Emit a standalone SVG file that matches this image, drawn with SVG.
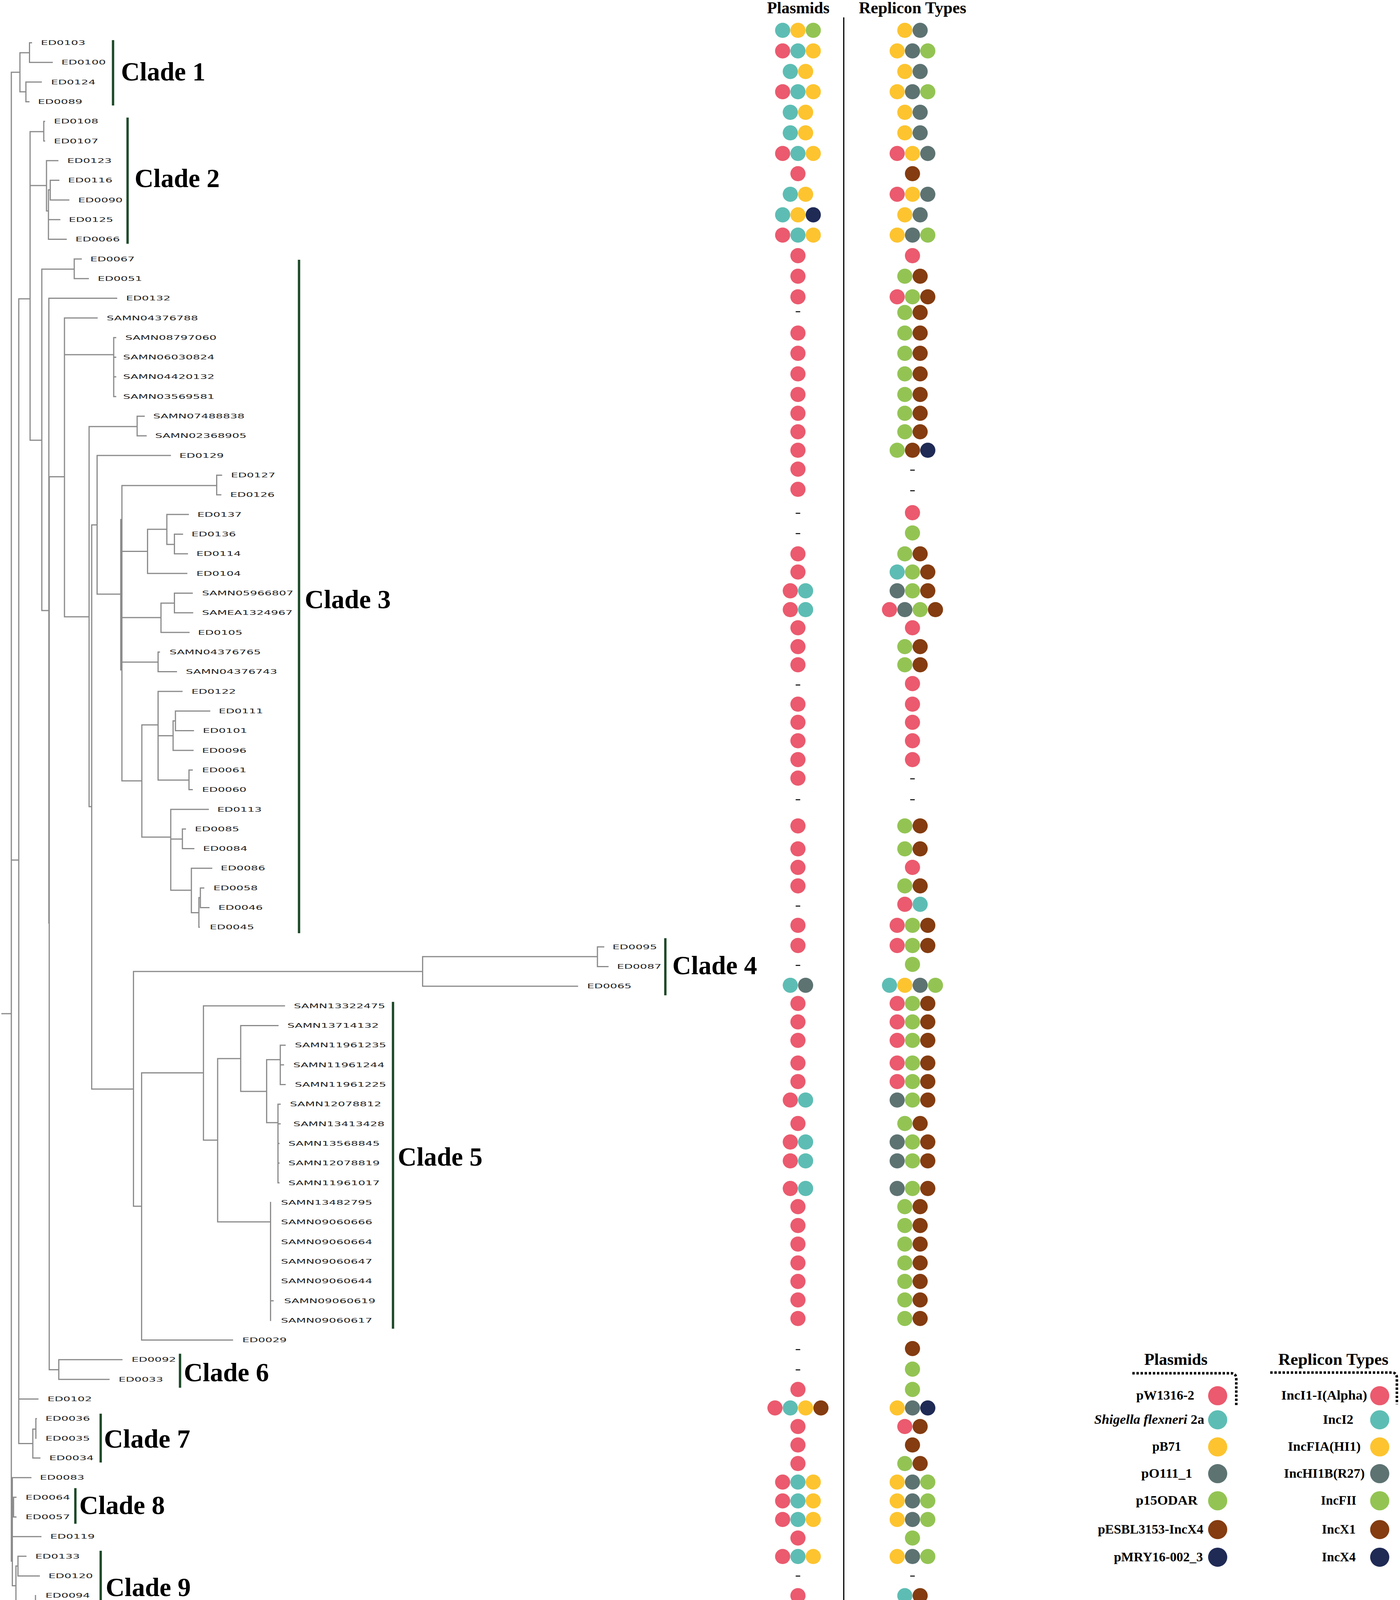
<svg xmlns="http://www.w3.org/2000/svg" width="3583" height="4203" viewBox="0 0 3583 4203">
<style>
.t{fill:none;stroke:#8a8a8a;stroke-width:3;stroke-linecap:square}
.lf{font-family:"DejaVu Sans",Verdana,sans-serif;font-size:15.5px;fill:#222}
.cl{font-family:"Liberation Serif","Times New Roman",serif;font-weight:bold;font-size:67px;fill:#000}
.hd{font-family:"Liberation Serif","Times New Roman",serif;font-weight:bold;font-size:42px;fill:#000}
.lg{font-family:"Liberation Serif","Times New Roman",serif;font-weight:bold;font-size:33px;fill:#000}
.ax{font-family:"Liberation Serif","Times New Roman",serif;font-size:16px;fill:#222}
.bar{stroke:#1d4a28;stroke-width:6}
.R{fill:#eb5a6e}.T{fill:#5dbdb4}.Y{fill:#fdc42f}.G{fill:#5d7372}.L{fill:#93c453}.B{fill:#843c10}.N{fill:#1f2a55}
.d{stroke:#000;stroke-width:2.5}
.dot{fill:none;stroke:#000;stroke-width:6.5;stroke-dasharray:6 4.5}
</style>
<rect width="3583" height="4203" fill="#fff"/>
<g id="connectors">
<path class="t" d="M5,2595H29 M29,185V3996.5 M29,185H51
M51,135V235 M51,135H75.5 M75.5,109.4V159.7 M75.5,109.4H80.6 M75.5,159.7H133.7
M51,235H66.3 M66.3,210V260.4 M66.3,210H105.6 M66.3,260.4H74
M29,2201.8H48 M48,765V3695.4 M48,765H77 M77,337V1127
M77,337H112 M112,310.7V361 M112,310.7H114 M112,361H114
M77,475H119 M119,411.3V540 M119,411.3H148
M119,540H124 M124,486V612.6 M124,486H128.6 M128.6,461.6V512 M128.6,461.6H150.5 M128.6,512H176 M124,562.3H153 M124,612.6H169.4
M77,1127H107 M107,689V1563 M107,689H190 M190,662.9V713.2 M190,662.9H208 M190,713.2H226 M107,1563H125
M125,763.6V2363 M125,763.6H298.5 M126,1220.5V3506.5 M126,1220.5H165
M126,3506.5H150.5 M150.5,3480.8V3531.2 M150.5,3480.8H312 M150.5,3531.2H279
M165,813.9V1579 M165,813.9H248.5 M165,908H291 M291,864.2V1015.2 M291,864.2H296 M291,914.5H296 M291,964.8H296 M291,1015.2H296
M165,1579H228
M228,1092V2065 M228,1092H351 M351,1065.5V1115.8 M351,1065.5H369 M351,1115.8H374 M228,2065H234.7
M234.7,1343.75V2788 M234.7,1343.75H248.5 M234.7,2788H341.6
M248.5,1166.1V1521 M248.5,1166.1H436 M248.5,1521H312
M312,1243V1999 M309,1330V1715
M312,1243H554.6 M554.6,1216.4V1266.8 M554.6,1216.4H567 M554.6,1266.8H565
M312,1411.6H377.6 M377.6,1355V1468 M377.6,1355H427 M427,1317.1V1393.75 M427,1317.1H482 M427,1393.75H446.4 M446.4,1367.4V1417.7 M446.4,1367.4H467 M446.4,1417.7H479.6 M377.6,1468H478
M312,1581H412 M412,1544V1619 M412,1544H446.4 M446.4,1518.4V1568.7 M446.4,1518.4H492 M446.4,1568.7H493 M412,1619H483.7
M312,1695H404.6 M404.6,1669.3V1719.6 M404.6,1669.3H408 M404.6,1719.6H451.5
M312,1999H363
M363,1855.8V2143 M363,1855.8H404.6 M404.6,1770V1997 M404.6,1770H465.8 M404.6,1883.5H443 M443,1845.5V1920.9 M443,1845.5H449 M449,1820.3V1870.6 M449,1820.3H536.7 M449,1870.6H495 M443,1920.9H494 M404.6,1997H483.7 M483.7,1971.2V2021.6 M483.7,1971.2H492 M483.7,2021.6H492
M363,2143H437 M437,2071.9V2279 M437,2071.9H533 M437,2148H466.8 M466.8,2122.2V2172.5 M466.8,2122.2H474.5 M466.8,2172.5H496 M437,2279H489.8 M489.8,2222.8V2336.5 M489.8,2222.8H541.8 M489.8,2336.5H509 M509,2298V2373.8 M509,2298H512.8 M512.8,2273.2V2323.5 M512.8,2273.2H521.4 M512.8,2323.5H534.7 M509,2373.8H510
M341.6,2487V3088 M341.6,2487H1081.6 M1081.6,2449V2524.8 M1081.6,2449H1529 M1529,2424.1V2474.4 M1529,2424.1H1545 M1529,2474.4H1556 M1081.6,2524.8H1478
M341.6,3088H362.4 M362.4,2746.6V3430.5 M362.4,2746.6H520.7 M362.4,3430.5H595
M520.7,2575.1V2918.7 M520.7,2575.1H728 M520.7,2918.7H557 M557,2710V3128 M557,2710H616 M616,2625.4V2794 M616,2625.4H711.4 M616,2794H682.4 M682.4,2712.8V2874 M682.4,2712.8H717.3 M717.3,2675.7V2776.4 M717.3,2675.7H729.7 M717.3,2726H725.5 M717.3,2776.4H729.7 M682.4,2874H711.4 M711.4,2826.7V3028 M711.4,2826.7H717 M711.4,2877H717 M711.4,2927.3H714 M711.4,2977.6H714 M711.4,3028H714 M557,3128H692.4 M692.4,3078.3V3380.2 M692.4,3329.9H699
M48,3581.5H97 M48,3695.4H84 M84,3658.6V3732.4 M84,3658.6H91.8 M91.8,3631.8V3682.1 M91.8,3631.8H93 M84,3732.4H102
M29,3996.5H31.6 M31.6,3782.8V4059.5 M31.6,3782.8H79 M31.6,3858H34.7 M34.7,3833.1V3883.4 M34.7,3833.1H40.8 M34.7,3883.4H40.8 M31.6,3933.7H104.6 M31.6,4059.5H40.8 M40.8,4009V4110 M40.8,4009H46 M46,3984V4034.4 M46,3984H66.3 M46,4034.4H100.5 M40.8,4110H90.8 M90.8,4084.7V4135 M90.8,4135H92"/>
</g>
<g id="leaves">
<g id="leaf-ED0103"><text class="lf" x="104.6" y="115" textLength="114" lengthAdjust="spacingAndGlyphs">ED0103</text></g>
<g id="leaf-ED0100"><text class="lf" x="157" y="165.3" textLength="114" lengthAdjust="spacingAndGlyphs">ED0100</text></g>
<g id="leaf-ED0124"><text class="lf" x="130.6" y="215.6" textLength="114" lengthAdjust="spacingAndGlyphs">ED0124</text></g>
<g id="leaf-ED0089"><text class="lf" x="97" y="266" textLength="114" lengthAdjust="spacingAndGlyphs">ED0089</text></g>
<g id="leaf-ED0108"><text class="lf" x="137.8" y="316.3" textLength="114" lengthAdjust="spacingAndGlyphs">ED0108</text></g>
<g id="leaf-ED0107"><text class="lf" x="137.8" y="366.6" textLength="114" lengthAdjust="spacingAndGlyphs">ED0107</text></g>
<g id="leaf-ED0123"><text class="lf" x="172" y="416.9" textLength="114" lengthAdjust="spacingAndGlyphs">ED0123</text></g>
<g id="leaf-ED0116"><text class="lf" x="174" y="467.2" textLength="114" lengthAdjust="spacingAndGlyphs">ED0116</text></g>
<g id="leaf-ED0090"><text class="lf" x="200" y="517.6" textLength="114" lengthAdjust="spacingAndGlyphs">ED0090</text></g>
<g id="leaf-ED0125"><text class="lf" x="176" y="567.9" textLength="114" lengthAdjust="spacingAndGlyphs">ED0125</text></g>
<g id="leaf-ED0066"><text class="lf" x="193" y="618.2" textLength="114" lengthAdjust="spacingAndGlyphs">ED0066</text></g>
<g id="leaf-ED0067"><text class="lf" x="231" y="668.5" textLength="114" lengthAdjust="spacingAndGlyphs">ED0067</text></g>
<g id="leaf-ED0051"><text class="lf" x="250" y="718.8" textLength="114" lengthAdjust="spacingAndGlyphs">ED0051</text></g>
<g id="leaf-ED0132"><text class="lf" x="322.4" y="769.2" textLength="114" lengthAdjust="spacingAndGlyphs">ED0132</text></g>
<g id="leaf-SAMN04376788"><text class="lf" x="273" y="819.5" textLength="234" lengthAdjust="spacingAndGlyphs">SAMN04376788</text></g>
<g id="leaf-SAMN08797060"><text class="lf" x="320.4" y="869.8" textLength="234" lengthAdjust="spacingAndGlyphs">SAMN08797060</text></g>
<g id="leaf-SAMN06030824"><text class="lf" x="315" y="920.1" textLength="234" lengthAdjust="spacingAndGlyphs">SAMN06030824</text></g>
<g id="leaf-SAMN04420132"><text class="lf" x="315" y="970.4" textLength="234" lengthAdjust="spacingAndGlyphs">SAMN04420132</text></g>
<g id="leaf-SAMN03569581"><text class="lf" x="315" y="1020.8" textLength="234" lengthAdjust="spacingAndGlyphs">SAMN03569581</text></g>
<g id="leaf-SAMN07488838"><text class="lf" x="392" y="1071.1" textLength="234" lengthAdjust="spacingAndGlyphs">SAMN07488838</text></g>
<g id="leaf-SAMN02368905"><text class="lf" x="397" y="1121.4" textLength="234" lengthAdjust="spacingAndGlyphs">SAMN02368905</text></g>
<g id="leaf-ED0129"><text class="lf" x="459" y="1171.7" textLength="114" lengthAdjust="spacingAndGlyphs">ED0129</text></g>
<g id="leaf-ED0127"><text class="lf" x="591" y="1222" textLength="114" lengthAdjust="spacingAndGlyphs">ED0127</text></g>
<g id="leaf-ED0126"><text class="lf" x="589" y="1272.4" textLength="114" lengthAdjust="spacingAndGlyphs">ED0126</text></g>
<g id="leaf-ED0137"><text class="lf" x="505" y="1322.7" textLength="114" lengthAdjust="spacingAndGlyphs">ED0137</text></g>
<g id="leaf-ED0136"><text class="lf" x="490" y="1373" textLength="114" lengthAdjust="spacingAndGlyphs">ED0136</text></g>
<g id="leaf-ED0114"><text class="lf" x="502.6" y="1423.3" textLength="114" lengthAdjust="spacingAndGlyphs">ED0114</text></g>
<g id="leaf-ED0104"><text class="lf" x="502.6" y="1473.6" textLength="114" lengthAdjust="spacingAndGlyphs">ED0104</text></g>
<g id="leaf-SAMN05966807"><text class="lf" x="517" y="1524" textLength="234" lengthAdjust="spacingAndGlyphs">SAMN05966807</text></g>
<g id="leaf-SAMEA1324967"><text class="lf" x="517" y="1574.3" textLength="232" lengthAdjust="spacingAndGlyphs">SAMEA1324967</text></g>
<g id="leaf-ED0105"><text class="lf" x="506.6" y="1624.6" textLength="114" lengthAdjust="spacingAndGlyphs">ED0105</text></g>
<g id="leaf-SAMN04376765"><text class="lf" x="433.7" y="1674.9" textLength="234" lengthAdjust="spacingAndGlyphs">SAMN04376765</text></g>
<g id="leaf-SAMN04376743"><text class="lf" x="475.5" y="1725.2" textLength="234" lengthAdjust="spacingAndGlyphs">SAMN04376743</text></g>
<g id="leaf-ED0122"><text class="lf" x="490" y="1775.6" textLength="114" lengthAdjust="spacingAndGlyphs">ED0122</text></g>
<g id="leaf-ED0111"><text class="lf" x="559.7" y="1825.9" textLength="114" lengthAdjust="spacingAndGlyphs">ED0111</text></g>
<g id="leaf-ED0101"><text class="lf" x="519" y="1876.2" textLength="114" lengthAdjust="spacingAndGlyphs">ED0101</text></g>
<g id="leaf-ED0096"><text class="lf" x="517" y="1926.5" textLength="114" lengthAdjust="spacingAndGlyphs">ED0096</text></g>
<g id="leaf-ED0061"><text class="lf" x="517" y="1976.8" textLength="114" lengthAdjust="spacingAndGlyphs">ED0061</text></g>
<g id="leaf-ED0060"><text class="lf" x="517" y="2027.2" textLength="114" lengthAdjust="spacingAndGlyphs">ED0060</text></g>
<g id="leaf-ED0113"><text class="lf" x="556" y="2077.5" textLength="114" lengthAdjust="spacingAndGlyphs">ED0113</text></g>
<g id="leaf-ED0085"><text class="lf" x="498.5" y="2127.8" textLength="114" lengthAdjust="spacingAndGlyphs">ED0085</text></g>
<g id="leaf-ED0084"><text class="lf" x="519.4" y="2178.1" textLength="114" lengthAdjust="spacingAndGlyphs">ED0084</text></g>
<g id="leaf-ED0086"><text class="lf" x="564.8" y="2228.4" textLength="114" lengthAdjust="spacingAndGlyphs">ED0086</text></g>
<g id="leaf-ED0058"><text class="lf" x="546" y="2278.8" textLength="114" lengthAdjust="spacingAndGlyphs">ED0058</text></g>
<g id="leaf-ED0046"><text class="lf" x="558.7" y="2329.1" textLength="114" lengthAdjust="spacingAndGlyphs">ED0046</text></g>
<g id="leaf-ED0045"><text class="lf" x="536.7" y="2379.4" textLength="114" lengthAdjust="spacingAndGlyphs">ED0045</text></g>
<g id="leaf-ED0095"><text class="lf" x="1567.6" y="2429.7" textLength="114" lengthAdjust="spacingAndGlyphs">ED0095</text></g>
<g id="leaf-ED0087"><text class="lf" x="1579" y="2480" textLength="114" lengthAdjust="spacingAndGlyphs">ED0087</text></g>
<g id="leaf-ED0065"><text class="lf" x="1502.5" y="2530.4" textLength="114" lengthAdjust="spacingAndGlyphs">ED0065</text></g>
<g id="leaf-SAMN13322475"><text class="lf" x="752" y="2580.7" textLength="234" lengthAdjust="spacingAndGlyphs">SAMN13322475</text></g>
<g id="leaf-SAMN13714132"><text class="lf" x="735.5" y="2631" textLength="234" lengthAdjust="spacingAndGlyphs">SAMN13714132</text></g>
<g id="leaf-SAMN11961235"><text class="lf" x="754.6" y="2681.3" textLength="234" lengthAdjust="spacingAndGlyphs">SAMN11961235</text></g>
<g id="leaf-SAMN11961244"><text class="lf" x="750.4" y="2731.6" textLength="234" lengthAdjust="spacingAndGlyphs">SAMN11961244</text></g>
<g id="leaf-SAMN11961225"><text class="lf" x="754.6" y="2782" textLength="234" lengthAdjust="spacingAndGlyphs">SAMN11961225</text></g>
<g id="leaf-SAMN12078812"><text class="lf" x="742" y="2832.3" textLength="234" lengthAdjust="spacingAndGlyphs">SAMN12078812</text></g>
<g id="leaf-SAMN13413428"><text class="lf" x="750.4" y="2882.6" textLength="234" lengthAdjust="spacingAndGlyphs">SAMN13413428</text></g>
<g id="leaf-SAMN13568845"><text class="lf" x="738" y="2932.9" textLength="234" lengthAdjust="spacingAndGlyphs">SAMN13568845</text></g>
<g id="leaf-SAMN12078819"><text class="lf" x="738" y="2983.2" textLength="234" lengthAdjust="spacingAndGlyphs">SAMN12078819</text></g>
<g id="leaf-SAMN11961017"><text class="lf" x="738" y="3033.6" textLength="234" lengthAdjust="spacingAndGlyphs">SAMN11961017</text></g>
<g id="leaf-SAMN13482795"><text class="lf" x="719" y="3083.9" textLength="234" lengthAdjust="spacingAndGlyphs">SAMN13482795</text></g>
<g id="leaf-SAMN09060666"><text class="lf" x="719" y="3134.2" textLength="234" lengthAdjust="spacingAndGlyphs">SAMN09060666</text></g>
<g id="leaf-SAMN09060664"><text class="lf" x="719" y="3184.5" textLength="234" lengthAdjust="spacingAndGlyphs">SAMN09060664</text></g>
<g id="leaf-SAMN09060647"><text class="lf" x="719" y="3234.8" textLength="234" lengthAdjust="spacingAndGlyphs">SAMN09060647</text></g>
<g id="leaf-SAMN09060644"><text class="lf" x="719" y="3285.2" textLength="234" lengthAdjust="spacingAndGlyphs">SAMN09060644</text></g>
<g id="leaf-SAMN09060619"><text class="lf" x="727" y="3335.5" textLength="234" lengthAdjust="spacingAndGlyphs">SAMN09060619</text></g>
<g id="leaf-SAMN09060617"><text class="lf" x="719" y="3385.8" textLength="234" lengthAdjust="spacingAndGlyphs">SAMN09060617</text></g>
<g id="leaf-ED0029"><text class="lf" x="620" y="3436.1" textLength="114" lengthAdjust="spacingAndGlyphs">ED0029</text></g>
<g id="leaf-ED0092"><text class="lf" x="336.7" y="3486.4" textLength="114" lengthAdjust="spacingAndGlyphs">ED0092</text></g>
<g id="leaf-ED0033"><text class="lf" x="303.6" y="3536.8" textLength="114" lengthAdjust="spacingAndGlyphs">ED0033</text></g>
<g id="leaf-ED0102"><text class="lf" x="121.4" y="3587.1" textLength="114" lengthAdjust="spacingAndGlyphs">ED0102</text></g>
<g id="leaf-ED0036"><text class="lf" x="116.3" y="3637.4" textLength="114" lengthAdjust="spacingAndGlyphs">ED0036</text></g>
<g id="leaf-ED0035"><text class="lf" x="116.3" y="3687.7" textLength="114" lengthAdjust="spacingAndGlyphs">ED0035</text></g>
<g id="leaf-ED0034"><text class="lf" x="126" y="3738" textLength="114" lengthAdjust="spacingAndGlyphs">ED0034</text></g>
<g id="leaf-ED0083"><text class="lf" x="102" y="3788.4" textLength="114" lengthAdjust="spacingAndGlyphs">ED0083</text></g>
<g id="leaf-ED0064"><text class="lf" x="65.3" y="3838.7" textLength="114" lengthAdjust="spacingAndGlyphs">ED0064</text></g>
<g id="leaf-ED0057"><text class="lf" x="65.3" y="3889" textLength="114" lengthAdjust="spacingAndGlyphs">ED0057</text></g>
<g id="leaf-ED0119"><text class="lf" x="128.6" y="3939.3" textLength="114" lengthAdjust="spacingAndGlyphs">ED0119</text></g>
<g id="leaf-ED0133"><text class="lf" x="90.3" y="3989.6" textLength="114" lengthAdjust="spacingAndGlyphs">ED0133</text></g>
<g id="leaf-ED0120"><text class="lf" x="124" y="4040" textLength="114" lengthAdjust="spacingAndGlyphs">ED0120</text></g>
<g id="leaf-ED0094"><text class="lf" x="116.3" y="4090.3" textLength="114" lengthAdjust="spacingAndGlyphs">ED0094</text></g>
<g id="leaf-ED0093"><text class="lf" x="121.4" y="4140.6" textLength="114" lengthAdjust="spacingAndGlyphs">ED0093</text></g>
</g>
<g id="clades">
<g id="clade-1"><line class="bar" x1="289.3" y1="102.7" x2="289.3" y2="270"/><text class="cl" x="309.7" y="206" textLength="216" lengthAdjust="spacingAndGlyphs">Clade 1</text></g>
<g id="clade-2"><line class="bar" x1="326.5" y1="301" x2="326.5" y2="624"/><text class="cl" x="344.4" y="479" textLength="218" lengthAdjust="spacingAndGlyphs">Clade 2</text></g>
<g id="clade-3"><line class="bar" x1="765.3" y1="665" x2="765.3" y2="2389"/><text class="cl" x="780" y="1557" textLength="220" lengthAdjust="spacingAndGlyphs">Clade 3</text></g>
<g id="clade-4"><line class="bar" x1="1702.8" y1="2401.7" x2="1702.8" y2="2548"/><text class="cl" x="1720.7" y="2494" textLength="217" lengthAdjust="spacingAndGlyphs">Clade 4</text></g>
<g id="clade-5"><line class="bar" x1="1005.8" y1="2564.8" x2="1005.8" y2="3401.5"/><text class="cl" x="1018" y="2984.4" textLength="217" lengthAdjust="spacingAndGlyphs">Clade 5</text></g>
<g id="clade-6"><line class="bar" x1="460.7" y1="3465.5" x2="460.7" y2="3552.6"/><text class="cl" x="470.4" y="3535.7" textLength="218" lengthAdjust="spacingAndGlyphs">Clade 6</text></g>
<g id="clade-7"><line class="bar" x1="257.7" y1="3619" x2="257.7" y2="3744"/><text class="cl" x="266" y="3706" textLength="221" lengthAdjust="spacingAndGlyphs">Clade 7</text></g>
<g id="clade-8"><line class="bar" x1="192.9" y1="3809.6" x2="192.9" y2="3900.8"/><text class="cl" x="203" y="3876" textLength="219" lengthAdjust="spacingAndGlyphs">Clade 8</text></g>
<g id="clade-9"><line class="bar" x1="257.7" y1="3969.9" x2="257.7" y2="4151.7"/><text class="cl" x="270.4" y="4086" textLength="218" lengthAdjust="spacingAndGlyphs">Clade 9</text></g>
</g>
<g id="axis">
<path d="M27.5,4197.7H1553 M27.5,4188V4197.7 M295,4188V4197.7 M562,4188V4197.7 M829,4188V4197.7 M1095,4188V4197.7 M1362,4188V4197.7" fill="none" stroke="#8a8a8a" stroke-width="2"/>
<text class="ax" x="20" y="4185" textLength="15" lengthAdjust="spacingAndGlyphs">0</text>
<text class="ax" x="277" y="4185" textLength="36" lengthAdjust="spacingAndGlyphs">50</text>
<text class="ax" x="535" y="4185" textLength="54" lengthAdjust="spacingAndGlyphs">100</text>
<text class="ax" x="802" y="4185" textLength="54" lengthAdjust="spacingAndGlyphs">150</text>
<text class="ax" x="1068" y="4185" textLength="54" lengthAdjust="spacingAndGlyphs">200</text>
<text class="ax" x="1335" y="4185" textLength="54" lengthAdjust="spacingAndGlyphs">250</text>
</g>
<g id="headers">
<text class="hd" x="1963" y="34" textLength="160" lengthAdjust="spacingAndGlyphs">Plasmids</text>
<text class="hd" x="2198" y="34" textLength="275" lengthAdjust="spacingAndGlyphs">Replicon Types</text>
<line x1="2159.4" y1="44.6" x2="2159.4" y2="4151" stroke="#000" stroke-width="3"/>
</g>
<g id="dots">
<g id="row0"><circle class="T" cx="2003" cy="77.7" r="19.4"/><circle class="Y" cx="2042.2" cy="77.7" r="19.4"/><circle class="L" cx="2081.4" cy="77.7" r="19.4"/><circle class="Y" cx="2315.7" cy="77.7" r="19.4"/><circle class="G" cx="2354.9" cy="77.7" r="19.4"/></g>
<g id="row1"><circle class="R" cx="2003" cy="130.4" r="19.4"/><circle class="T" cx="2042.2" cy="130.4" r="19.4"/><circle class="Y" cx="2081.4" cy="130.4" r="19.4"/><circle class="Y" cx="2296.1" cy="130.4" r="19.4"/><circle class="G" cx="2335.3" cy="130.4" r="19.4"/><circle class="L" cx="2374.5" cy="130.4" r="19.4"/></g>
<g id="row2"><circle class="T" cx="2022.6" cy="183" r="19.4"/><circle class="Y" cx="2061.8" cy="183" r="19.4"/><circle class="Y" cx="2315.7" cy="183" r="19.4"/><circle class="G" cx="2354.9" cy="183" r="19.4"/></g>
<g id="row3"><circle class="R" cx="2003" cy="234.8" r="19.4"/><circle class="T" cx="2042.2" cy="234.8" r="19.4"/><circle class="Y" cx="2081.4" cy="234.8" r="19.4"/><circle class="Y" cx="2296.1" cy="234.8" r="19.4"/><circle class="G" cx="2335.3" cy="234.8" r="19.4"/><circle class="L" cx="2374.5" cy="234.8" r="19.4"/></g>
<g id="row4"><circle class="T" cx="2022.6" cy="287.5" r="19.4"/><circle class="Y" cx="2061.8" cy="287.5" r="19.4"/><circle class="Y" cx="2315.7" cy="287.5" r="19.4"/><circle class="G" cx="2354.9" cy="287.5" r="19.4"/></g>
<g id="row5"><circle class="T" cx="2022.6" cy="340.2" r="19.4"/><circle class="Y" cx="2061.8" cy="340.2" r="19.4"/><circle class="Y" cx="2315.7" cy="340.2" r="19.4"/><circle class="G" cx="2354.9" cy="340.2" r="19.4"/></g>
<g id="row6"><circle class="R" cx="2003" cy="392.9" r="19.4"/><circle class="T" cx="2042.2" cy="392.9" r="19.4"/><circle class="Y" cx="2081.4" cy="392.9" r="19.4"/><circle class="R" cx="2296.1" cy="392.9" r="19.4"/><circle class="Y" cx="2335.3" cy="392.9" r="19.4"/><circle class="G" cx="2374.5" cy="392.9" r="19.4"/></g>
<g id="row7"><circle class="R" cx="2042.2" cy="444.6" r="19.4"/><circle class="B" cx="2335.3" cy="444.6" r="19.4"/></g>
<g id="row8"><circle class="T" cx="2022.6" cy="497.3" r="19.4"/><circle class="Y" cx="2061.8" cy="497.3" r="19.4"/><circle class="R" cx="2296.1" cy="497.3" r="19.4"/><circle class="Y" cx="2335.3" cy="497.3" r="19.4"/><circle class="G" cx="2374.5" cy="497.3" r="19.4"/></g>
<g id="row9"><circle class="T" cx="2003" cy="550" r="19.4"/><circle class="Y" cx="2042.2" cy="550" r="19.4"/><circle class="N" cx="2081.4" cy="550" r="19.4"/><circle class="Y" cx="2315.7" cy="550" r="19.4"/><circle class="G" cx="2354.9" cy="550" r="19.4"/></g>
<g id="row10"><circle class="R" cx="2003" cy="601.8" r="19.4"/><circle class="T" cx="2042.2" cy="601.8" r="19.4"/><circle class="Y" cx="2081.4" cy="601.8" r="19.4"/><circle class="Y" cx="2296.1" cy="601.8" r="19.4"/><circle class="G" cx="2335.3" cy="601.8" r="19.4"/><circle class="L" cx="2374.5" cy="601.8" r="19.4"/></g>
<g id="row11"><circle class="R" cx="2042.2" cy="654.5" r="19.4"/><circle class="R" cx="2335.3" cy="654.5" r="19.4"/></g>
<g id="row12"><circle class="R" cx="2042.2" cy="707.1" r="19.4"/><circle class="L" cx="2315.7" cy="707.1" r="19.4"/><circle class="B" cx="2354.9" cy="707.1" r="19.4"/></g>
<g id="row13"><circle class="R" cx="2042.2" cy="759.8" r="19.4"/><circle class="R" cx="2296.1" cy="759.8" r="19.4"/><circle class="L" cx="2335.3" cy="759.8" r="19.4"/><circle class="B" cx="2374.5" cy="759.8" r="19.4"/></g>
<g id="row14"><line class="d" x1="2036.4" y1="798" x2="2048" y2="798"/><circle class="L" cx="2315.7" cy="800" r="19.4"/><circle class="B" cx="2354.9" cy="800" r="19.4"/></g>
<g id="row15"><circle class="R" cx="2042.2" cy="852.7" r="19.4"/><circle class="L" cx="2315.7" cy="852.7" r="19.4"/><circle class="B" cx="2354.9" cy="852.7" r="19.4"/></g>
<g id="row16"><circle class="R" cx="2042.2" cy="904.5" r="19.4"/><circle class="L" cx="2315.7" cy="904.5" r="19.4"/><circle class="B" cx="2354.9" cy="904.5" r="19.4"/></g>
<g id="row17"><circle class="R" cx="2042.2" cy="957.1" r="19.4"/><circle class="L" cx="2315.7" cy="957.1" r="19.4"/><circle class="B" cx="2354.9" cy="957.1" r="19.4"/></g>
<g id="row18"><circle class="R" cx="2042.2" cy="1009.8" r="19.4"/><circle class="L" cx="2315.7" cy="1009.8" r="19.4"/><circle class="B" cx="2354.9" cy="1009.8" r="19.4"/></g>
<g id="row19"><circle class="R" cx="2042.2" cy="1058" r="19.4"/><circle class="L" cx="2315.7" cy="1058" r="19.4"/><circle class="B" cx="2354.9" cy="1058" r="19.4"/></g>
<g id="row20"><circle class="R" cx="2042.2" cy="1105.4" r="19.4"/><circle class="L" cx="2315.7" cy="1105.4" r="19.4"/><circle class="B" cx="2354.9" cy="1105.4" r="19.4"/></g>
<g id="row21"><circle class="R" cx="2042.2" cy="1152.7" r="19.4"/><circle class="L" cx="2296.1" cy="1152.7" r="19.4"/><circle class="B" cx="2335.3" cy="1152.7" r="19.4"/><circle class="N" cx="2374.5" cy="1152.7" r="19.4"/></g>
<g id="row22"><circle class="R" cx="2042.2" cy="1201" r="19.4"/><line class="d" x1="2329.5" y1="1203.6" x2="2341.1" y2="1203.6"/></g>
<g id="row23"><circle class="R" cx="2042.2" cy="1252.7" r="19.4"/><line class="d" x1="2329.5" y1="1256.3" x2="2341.1" y2="1256.3"/></g>
<g id="row24"><line class="d" x1="2036.4" y1="1314" x2="2048" y2="1314"/><circle class="R" cx="2335.3" cy="1312.5" r="19.4"/></g>
<g id="row25"><line class="d" x1="2036.4" y1="1366" x2="2048" y2="1366"/><circle class="L" cx="2335.3" cy="1364.3" r="19.4"/></g>
<g id="row26"><circle class="R" cx="2042.2" cy="1417.9" r="19.4"/><circle class="L" cx="2315.7" cy="1417.9" r="19.4"/><circle class="B" cx="2354.9" cy="1417.9" r="19.4"/></g>
<g id="row27"><circle class="R" cx="2042.2" cy="1464.3" r="19.4"/><circle class="T" cx="2296.1" cy="1464.3" r="19.4"/><circle class="L" cx="2335.3" cy="1464.3" r="19.4"/><circle class="B" cx="2374.5" cy="1464.3" r="19.4"/></g>
<g id="row28"><circle class="R" cx="2022.6" cy="1512.5" r="19.4"/><circle class="T" cx="2061.8" cy="1512.5" r="19.4"/><circle class="G" cx="2296.1" cy="1512.5" r="19.4"/><circle class="L" cx="2335.3" cy="1512.5" r="19.4"/><circle class="B" cx="2374.5" cy="1512.5" r="19.4"/></g>
<g id="row29"><circle class="R" cx="2022.6" cy="1560.7" r="19.4"/><circle class="T" cx="2061.8" cy="1560.7" r="19.4"/><circle class="R" cx="2276.5" cy="1560.7" r="19.4"/><circle class="G" cx="2315.7" cy="1560.7" r="19.4"/><circle class="L" cx="2354.9" cy="1560.7" r="19.4"/><circle class="B" cx="2394.1" cy="1560.7" r="19.4"/></g>
<g id="row30"><circle class="R" cx="2042.2" cy="1607.1" r="19.4"/><circle class="R" cx="2335.3" cy="1607.1" r="19.4"/></g>
<g id="row31"><circle class="R" cx="2042.2" cy="1655.4" r="19.4"/><circle class="L" cx="2315.7" cy="1655.4" r="19.4"/><circle class="B" cx="2354.9" cy="1655.4" r="19.4"/></g>
<g id="row32"><circle class="R" cx="2042.2" cy="1701.8" r="19.4"/><circle class="L" cx="2315.7" cy="1701.8" r="19.4"/><circle class="B" cx="2354.9" cy="1701.8" r="19.4"/></g>
<g id="row33"><line class="d" x1="2036.4" y1="1753.6" x2="2048" y2="1753.6"/><circle class="R" cx="2335.3" cy="1750" r="19.4"/></g>
<g id="row34"><circle class="R" cx="2042.2" cy="1802.7" r="19.4"/><circle class="R" cx="2335.3" cy="1802.7" r="19.4"/></g>
<g id="row35"><circle class="R" cx="2042.2" cy="1849.1" r="19.4"/><circle class="R" cx="2335.3" cy="1849.1" r="19.4"/></g>
<g id="row36"><circle class="R" cx="2042.2" cy="1896.4" r="19.4"/><circle class="R" cx="2335.3" cy="1896.4" r="19.4"/></g>
<g id="row37"><circle class="R" cx="2042.2" cy="1944.6" r="19.4"/><circle class="R" cx="2335.3" cy="1944.6" r="19.4"/></g>
<g id="row38"><circle class="R" cx="2042.2" cy="1992" r="19.4"/><line class="d" x1="2329.5" y1="1993.8" x2="2341.1" y2="1993.8"/></g>
<g id="row39"><line class="d" x1="2036.4" y1="2047.3" x2="2048" y2="2047.3"/><line class="d" x1="2329.5" y1="2047.3" x2="2341.1" y2="2047.3"/></g>
<g id="row40"><circle class="R" cx="2042.2" cy="2114.3" r="19.4"/><circle class="L" cx="2315.7" cy="2114.3" r="19.4"/><circle class="B" cx="2354.9" cy="2114.3" r="19.4"/></g>
<g id="row41"><circle class="R" cx="2042.2" cy="2173.2" r="19.4"/><circle class="L" cx="2315.7" cy="2173.2" r="19.4"/><circle class="B" cx="2354.9" cy="2173.2" r="19.4"/></g>
<g id="row42"><circle class="R" cx="2042.2" cy="2220.5" r="19.4"/><circle class="R" cx="2335.3" cy="2220.5" r="19.4"/></g>
<g id="row43"><circle class="R" cx="2042.2" cy="2267.9" r="19.4"/><circle class="L" cx="2315.7" cy="2267.9" r="19.4"/><circle class="B" cx="2354.9" cy="2267.9" r="19.4"/></g>
<g id="row44"><line class="d" x1="2036.4" y1="2319.6" x2="2048" y2="2319.6"/><circle class="R" cx="2315.7" cy="2315" r="19.4"/><circle class="T" cx="2354.9" cy="2315" r="19.4"/></g>
<g id="row45"><circle class="R" cx="2042.2" cy="2368.8" r="19.4"/><circle class="R" cx="2296.1" cy="2368.8" r="19.4"/><circle class="L" cx="2335.3" cy="2368.8" r="19.4"/><circle class="B" cx="2374.5" cy="2368.8" r="19.4"/></g>
<g id="row46"><circle class="R" cx="2042.2" cy="2420.5" r="19.4"/><circle class="R" cx="2296.1" cy="2420.5" r="19.4"/><circle class="L" cx="2335.3" cy="2420.5" r="19.4"/><circle class="B" cx="2374.5" cy="2420.5" r="19.4"/></g>
<g id="row47"><line class="d" x1="2036.4" y1="2471.4" x2="2048" y2="2471.4"/><circle class="L" cx="2335.3" cy="2468.8" r="19.4"/></g>
<g id="row48"><circle class="T" cx="2022.6" cy="2522.3" r="19.4"/><circle class="G" cx="2061.8" cy="2522.3" r="19.4"/><circle class="T" cx="2276.5" cy="2522.3" r="19.4"/><circle class="Y" cx="2315.7" cy="2522.3" r="19.4"/><circle class="G" cx="2354.9" cy="2522.3" r="19.4"/><circle class="L" cx="2394.1" cy="2522.3" r="19.4"/></g>
<g id="row49"><circle class="R" cx="2042.2" cy="2568.8" r="19.4"/><circle class="R" cx="2296.1" cy="2568.8" r="19.4"/><circle class="L" cx="2335.3" cy="2568.8" r="19.4"/><circle class="B" cx="2374.5" cy="2568.8" r="19.4"/></g>
<g id="row50"><circle class="R" cx="2042.2" cy="2616.1" r="19.4"/><circle class="R" cx="2296.1" cy="2616.1" r="19.4"/><circle class="L" cx="2335.3" cy="2616.1" r="19.4"/><circle class="B" cx="2374.5" cy="2616.1" r="19.4"/></g>
<g id="row51"><circle class="R" cx="2042.2" cy="2663.4" r="19.4"/><circle class="R" cx="2296.1" cy="2663.4" r="19.4"/><circle class="L" cx="2335.3" cy="2663.4" r="19.4"/><circle class="B" cx="2374.5" cy="2663.4" r="19.4"/></g>
<g id="row52"><circle class="R" cx="2042.2" cy="2721.4" r="19.4"/><circle class="R" cx="2296.1" cy="2721.4" r="19.4"/><circle class="L" cx="2335.3" cy="2721.4" r="19.4"/><circle class="B" cx="2374.5" cy="2721.4" r="19.4"/></g>
<g id="row53"><circle class="R" cx="2042.2" cy="2768.8" r="19.4"/><circle class="R" cx="2296.1" cy="2768.8" r="19.4"/><circle class="L" cx="2335.3" cy="2768.8" r="19.4"/><circle class="B" cx="2374.5" cy="2768.8" r="19.4"/></g>
<g id="row54"><circle class="R" cx="2022.6" cy="2816.1" r="19.4"/><circle class="T" cx="2061.8" cy="2816.1" r="19.4"/><circle class="G" cx="2296.1" cy="2816.1" r="19.4"/><circle class="L" cx="2335.3" cy="2816.1" r="19.4"/><circle class="B" cx="2374.5" cy="2816.1" r="19.4"/></g>
<g id="row55"><circle class="R" cx="2042.2" cy="2876.1" r="19.4"/><circle class="L" cx="2315.7" cy="2876.1" r="19.4"/><circle class="B" cx="2354.9" cy="2876.1" r="19.4"/></g>
<g id="row56"><circle class="R" cx="2022.6" cy="2923.5" r="19.4"/><circle class="T" cx="2061.8" cy="2923.5" r="19.4"/><circle class="G" cx="2296.1" cy="2923.5" r="19.4"/><circle class="L" cx="2335.3" cy="2923.5" r="19.4"/><circle class="B" cx="2374.5" cy="2923.5" r="19.4"/></g>
<g id="row57"><circle class="R" cx="2022.6" cy="2971.8" r="19.4"/><circle class="T" cx="2061.8" cy="2971.8" r="19.4"/><circle class="G" cx="2296.1" cy="2971.8" r="19.4"/><circle class="L" cx="2335.3" cy="2971.8" r="19.4"/><circle class="B" cx="2374.5" cy="2971.8" r="19.4"/></g>
<g id="row58"><circle class="R" cx="2022.6" cy="3042.5" r="19.4"/><circle class="T" cx="2061.8" cy="3042.5" r="19.4"/><circle class="G" cx="2296.1" cy="3042.5" r="19.4"/><circle class="L" cx="2335.3" cy="3042.5" r="19.4"/><circle class="B" cx="2374.5" cy="3042.5" r="19.4"/></g>
<g id="row59"><circle class="R" cx="2042.2" cy="3089" r="19.4"/><circle class="L" cx="2315.7" cy="3089" r="19.4"/><circle class="B" cx="2354.9" cy="3089" r="19.4"/></g>
<g id="row60"><circle class="R" cx="2042.2" cy="3137.3" r="19.4"/><circle class="L" cx="2315.7" cy="3137.3" r="19.4"/><circle class="B" cx="2354.9" cy="3137.3" r="19.4"/></g>
<g id="row61"><circle class="R" cx="2042.2" cy="3184.8" r="19.4"/><circle class="L" cx="2315.7" cy="3184.8" r="19.4"/><circle class="B" cx="2354.9" cy="3184.8" r="19.4"/></g>
<g id="row62"><circle class="R" cx="2042.2" cy="3233.1" r="19.4"/><circle class="L" cx="2315.7" cy="3233.1" r="19.4"/><circle class="B" cx="2354.9" cy="3233.1" r="19.4"/></g>
<g id="row63"><circle class="R" cx="2042.2" cy="3280.5" r="19.4"/><circle class="L" cx="2315.7" cy="3280.5" r="19.4"/><circle class="B" cx="2354.9" cy="3280.5" r="19.4"/></g>
<g id="row64"><circle class="R" cx="2042.2" cy="3327.9" r="19.4"/><circle class="L" cx="2315.7" cy="3327.9" r="19.4"/><circle class="B" cx="2354.9" cy="3327.9" r="19.4"/></g>
<g id="row65"><circle class="R" cx="2042.2" cy="3375.3" r="19.4"/><circle class="L" cx="2315.7" cy="3375.3" r="19.4"/><circle class="B" cx="2354.9" cy="3375.3" r="19.4"/></g>
<g id="row66"><line class="d" x1="2036.4" y1="3455" x2="2048" y2="3455"/><circle class="B" cx="2335.3" cy="3452.3" r="19.4"/></g>
<g id="row67"><line class="d" x1="2036.4" y1="3506.9" x2="2048" y2="3506.9"/><circle class="L" cx="2335.3" cy="3505" r="19.4"/></g>
<g id="row68"><circle class="R" cx="2042.2" cy="3557" r="19.4"/><circle class="L" cx="2335.3" cy="3557" r="19.4"/></g>
<g id="row69"><circle class="R" cx="1983.4" cy="3604.4" r="19.4"/><circle class="T" cx="2022.6" cy="3604.4" r="19.4"/><circle class="Y" cx="2061.8" cy="3604.4" r="19.4"/><circle class="B" cx="2101" cy="3604.4" r="19.4"/><circle class="Y" cx="2296.1" cy="3604.4" r="19.4"/><circle class="G" cx="2335.3" cy="3604.4" r="19.4"/><circle class="N" cx="2374.5" cy="3604.4" r="19.4"/></g>
<g id="row70"><circle class="R" cx="2042.2" cy="3651.8" r="19.4"/><circle class="R" cx="2315.7" cy="3651.8" r="19.4"/><circle class="B" cx="2354.9" cy="3651.8" r="19.4"/></g>
<g id="row71"><circle class="R" cx="2042.2" cy="3699.2" r="19.4"/><circle class="B" cx="2335.3" cy="3699.2" r="19.4"/></g>
<g id="row72"><circle class="R" cx="2042.2" cy="3746.7" r="19.4"/><circle class="L" cx="2315.7" cy="3746.7" r="19.4"/><circle class="B" cx="2354.9" cy="3746.7" r="19.4"/></g>
<g id="row73"><circle class="R" cx="2003" cy="3794.1" r="19.4"/><circle class="T" cx="2042.2" cy="3794.1" r="19.4"/><circle class="Y" cx="2081.4" cy="3794.1" r="19.4"/><circle class="Y" cx="2296.1" cy="3794.1" r="19.4"/><circle class="G" cx="2335.3" cy="3794.1" r="19.4"/><circle class="L" cx="2374.5" cy="3794.1" r="19.4"/></g>
<g id="row74"><circle class="R" cx="2003" cy="3842.4" r="19.4"/><circle class="T" cx="2042.2" cy="3842.4" r="19.4"/><circle class="Y" cx="2081.4" cy="3842.4" r="19.4"/><circle class="Y" cx="2296.1" cy="3842.4" r="19.4"/><circle class="G" cx="2335.3" cy="3842.4" r="19.4"/><circle class="L" cx="2374.5" cy="3842.4" r="19.4"/></g>
<g id="row75"><circle class="R" cx="2003" cy="3889.8" r="19.4"/><circle class="T" cx="2042.2" cy="3889.8" r="19.4"/><circle class="Y" cx="2081.4" cy="3889.8" r="19.4"/><circle class="Y" cx="2296.1" cy="3889.8" r="19.4"/><circle class="G" cx="2335.3" cy="3889.8" r="19.4"/><circle class="L" cx="2374.5" cy="3889.8" r="19.4"/></g>
<g id="row76"><circle class="R" cx="2042.2" cy="3937.3" r="19.4"/><circle class="L" cx="2335.3" cy="3937.3" r="19.4"/></g>
<g id="row77"><circle class="R" cx="2003" cy="3984.7" r="19.4"/><circle class="T" cx="2042.2" cy="3984.7" r="19.4"/><circle class="Y" cx="2081.4" cy="3984.7" r="19.4"/><circle class="Y" cx="2296.1" cy="3984.7" r="19.4"/><circle class="G" cx="2335.3" cy="3984.7" r="19.4"/><circle class="L" cx="2374.5" cy="3984.7" r="19.4"/></g>
<g id="row78"><line class="d" x1="2036.4" y1="4034.8" x2="2048" y2="4034.8"/><line class="d" x1="2329.5" y1="4034.8" x2="2341.1" y2="4034.8"/></g>
<g id="row79"><circle class="R" cx="2042.2" cy="4084.9" r="19.4"/><circle class="T" cx="2315.7" cy="4084.9" r="19.4"/><circle class="B" cx="2354.9" cy="4084.9" r="19.4"/></g>
<g id="row80"><circle class="R" cx="2042.2" cy="4132.3" r="19.4"/><circle class="L" cx="2335.3" cy="4132.3" r="19.4"/></g>
</g>
<g id="legend-plasmids">
<text class="hd" x="2928.5" y="3494" font-size="41" textLength="162" lengthAdjust="spacingAndGlyphs">Plasmids</text>
<path class="dot" d="M2898,3515.4H3150Q3164,3515.4 3164,3530V3601"/>
<text class="lg" x="2908" y="3583" textLength="148.5" lengthAdjust="spacingAndGlyphs">pW1316-2</text><circle class="R" cx="3116.4" cy="3573.1" r="24.5"/>
<text class="lg" x="2800.5" y="3645" textLength="281.5" lengthAdjust="spacingAndGlyphs"><tspan font-style="italic">Shigella flexneri</tspan> 2a</text><circle class="T" cx="3116.4" cy="3634.7" r="24.5"/>
<text class="lg" x="2949" y="3714" textLength="74" lengthAdjust="spacingAndGlyphs">pB71</text><circle class="Y" cx="3116.4" cy="3704.1" r="24.5"/>
<text class="lg" x="2920.8" y="3783" textLength="130.6" lengthAdjust="spacingAndGlyphs">pO111_1</text><circle class="G" cx="3116.4" cy="3772.6" r="24.5"/>
<text class="lg" x="2907" y="3852" textLength="158" lengthAdjust="spacingAndGlyphs">p15ODAR</text><circle class="L" cx="3116.4" cy="3842" r="24.5"/>
<text class="lg" x="2809.7" y="3926" textLength="270" lengthAdjust="spacingAndGlyphs">pESBL3153-IncX4</text><circle class="B" cx="3116.4" cy="3915.7" r="24.5"/>
<text class="lg" x="2850.7" y="3996.5" textLength="228" lengthAdjust="spacingAndGlyphs">pMRY16-002_3</text><circle class="N" cx="3116.4" cy="3986.4" r="24.5"/>
</g>
<g id="legend-replicons">
<text class="hd" x="3271.5" y="3494" font-size="41" textLength="282" lengthAdjust="spacingAndGlyphs">Replicon Types</text>
<path class="dot" d="M3251,3513.7H3562Q3575,3513.7 3575,3528V3595"/>
<text class="lg" x="3279" y="3583" textLength="220" lengthAdjust="spacingAndGlyphs">IncI1-I(Alpha)</text><circle class="R" cx="3531.1" cy="3573.1" r="24.5"/>
<text class="lg" x="3385.7" y="3645" textLength="78" lengthAdjust="spacingAndGlyphs">IncI2</text><circle class="T" cx="3531.1" cy="3634.7" r="24.5"/>
<text class="lg" x="3296" y="3714" textLength="186.5" lengthAdjust="spacingAndGlyphs">IncFIA(HI1)</text><circle class="Y" cx="3531.1" cy="3704.1" r="24.5"/>
<text class="lg" x="3286" y="3783" textLength="206.7" lengthAdjust="spacingAndGlyphs">IncHI1B(R27)</text><circle class="G" cx="3531.1" cy="3772.6" r="24.5"/>
<text class="lg" x="3380.6" y="3852" textLength="90.7" lengthAdjust="spacingAndGlyphs">IncFII</text><circle class="L" cx="3531.1" cy="3842" r="24.5"/>
<text class="lg" x="3383" y="3926" textLength="86.7" lengthAdjust="spacingAndGlyphs">IncX1</text><circle class="B" cx="3531.1" cy="3915.7" r="24.5"/>
<text class="lg" x="3383" y="3996.5" textLength="86.7" lengthAdjust="spacingAndGlyphs">IncX4</text><circle class="N" cx="3531.1" cy="3986.4" r="24.5"/>
</g>
</svg>
